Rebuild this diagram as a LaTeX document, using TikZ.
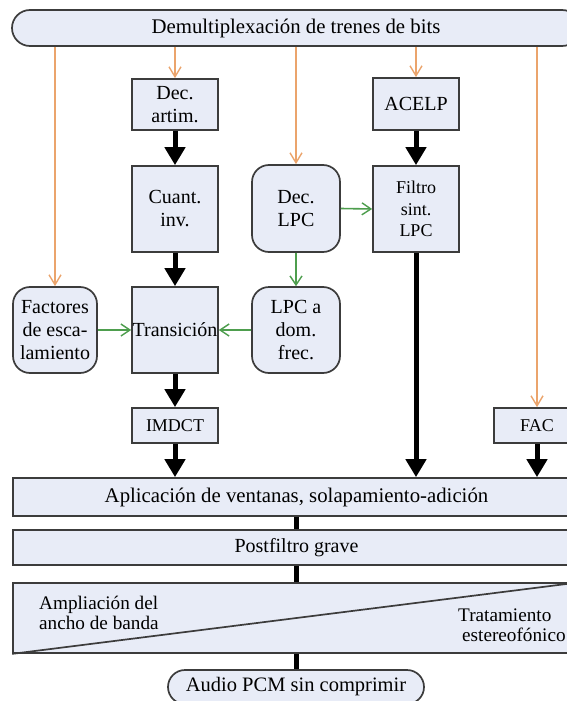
\documentclass[tikz,border=0pt]{standalone}
\usepackage{fontspec}
\setmainfont{Liberation Serif}
\usetikzlibrary{arrows.meta}
\definecolor{boxfill}{HTML}{E8ECF7}
\definecolor{boxline}{HTML}{3C3C3C}
\definecolor{orng}{HTML}{EBA46C}
\definecolor{grn}{HTML}{4E9E4E}
\begin{document}
\begin{tikzpicture}[x=1pt,y=-1pt,
  basebox/.style={fill=boxfill,draw=boxline,line width=1.7pt,inner sep=0pt,align=center,
    font=\fontsize{20}{23}\selectfont},
  sqbox/.style={basebox,rectangle},
  rndbox/.style={basebox,rectangle,rounded corners=17pt},
  thickarr/.style={line width=5pt,-{Triangle[length=18pt,width=20pt]}},
  bandline/.style={line width=5pt},
  orangearr/.style={draw=orng,line width=1.6pt,-{Straight Barb[length=10pt,width=12pt,line width=1.4pt]}},
  greenarr/.style={draw=grn,line width=1.6pt,-{Straight Barb[length=9pt,width=12pt,line width=1.4pt]}},
  plaintext/.style={inner sep=0pt,font=\fontsize{19.2}{20}\selectfont}
]
\useasboundingbox (0,0) rectangle (567,701);
\fill[white] (0,0) rectangle (567,701);

\node[rndbox,rounded corners=18pt,minimum width=568pt,minimum height=36pt,font=\fontsize{20.8}{23}\selectfont] (demux) at (296,28) {Demultiplexación de trenes de bits};

\node[sqbox,minimum width=86pt,minimum height=51pt] (decart) at (175,104.5) {Dec.\\artim.};
\node[sqbox,minimum width=86pt,minimum height=52pt] (acelp) at (416,104) {ACELP};

\node[sqbox,minimum width=86pt,minimum height=86pt] (cuant) at (175,209) {Cuant.\\inv.};
\node[rndbox,minimum width=88pt,minimum height=87pt] (declpc) at (296,208.5) {Dec.\\LPC};
\node[sqbox,minimum width=86pt,minimum height=86pt,font=\fontsize{18}{21.5}\selectfont] (filtro) at (416,209) {Filtro\\sint.\\LPC};

\node[rndbox,minimum width=84pt,minimum height=86pt] (fact) at (55,330) {Factores\\de esca-\\lamiento};
\node[sqbox,minimum width=86pt,minimum height=86pt] (trans) at (175,330) {Transición};
\node[rndbox,minimum width=88pt,minimum height=86pt] (lpcdom) at (296,330) {LPC a\\dom.\\frec.};

\node[sqbox,minimum width=86pt,minimum height=35pt,font=\fontsize{18}{21}\selectfont] (imdct) at (175,425.5) {IMDCT};
\node[sqbox,minimum width=86pt,minimum height=35pt,font=\fontsize{18}{21}\selectfont] (fac) at (537,425.5) {FAC};

\node[sqbox,minimum width=567pt,minimum height=38pt,font=\fontsize{20.8}{23}\selectfont] (aplic) at (296.5,497) {Aplicación de ventanas, solapamiento-adición};
\node[sqbox,minimum width=567pt,minimum height=35pt] (post) at (296.5,547.5) {Postfiltro grave};
\node[sqbox,minimum width=567pt,minimum height=70pt] (tri) at (296.5,618) {};
\draw[boxline,line width=1.7pt] (tri.south west) -- (tri.north east);
\node[plaintext,anchor=west,align=left] (ampl) at (39,613) {Ampliación del\\ancho de banda};
\node[plaintext,anchor=west,align=left] (trat) at (458,625) {Tratamiento\\\hspace{4pt}estereofónico};

\node[rndbox,rounded corners=17pt,minimum width=256pt,minimum height=34pt,font=\fontsize{20.5}{23}\selectfont] (audio) at (296,687) {Audio PCM sin comprimir};

% orange connectors
\draw[orangearr] (fact.north |- demux.south) -- (fact.north);
\draw[orangearr] (decart.north |- demux.south) -- (decart.north);
\draw[orangearr] (declpc.north |- demux.south) -- (declpc.north);
\draw[orangearr] (acelp.north |- demux.south) -- (acelp.north);
\draw[orangearr] (fac.north |- demux.south) -- (fac.north);

% black connectors
\draw[thickarr] (decart.south) -- (cuant.north);
\draw[thickarr] (acelp.south) -- (filtro.north);
\draw[thickarr] (cuant.south) -- (trans.north);
\draw[thickarr] (trans.south) -- (imdct.north);
\draw[thickarr] (imdct.south) -- (imdct.south |- aplic.north);
\draw[thickarr] (filtro.south) -- (filtro.south |- aplic.north);
\draw[thickarr] (fac.south) -- (fac.south |- aplic.north);
\draw[bandline] (aplic.south) -- (post.north);
\draw[bandline] (post.south) -- (tri.north);
\draw[bandline] (tri.south) -- (tri.south |- audio.north);

% green connectors
\draw[greenarr] (declpc.east) -- (filtro.west);
\draw[greenarr] (declpc.south) -- (lpcdom.north);
\draw[greenarr] (fact.east) -- (trans.west);
\draw[greenarr] (lpcdom.west) -- (trans.east);
\end{tikzpicture}
\end{document}
